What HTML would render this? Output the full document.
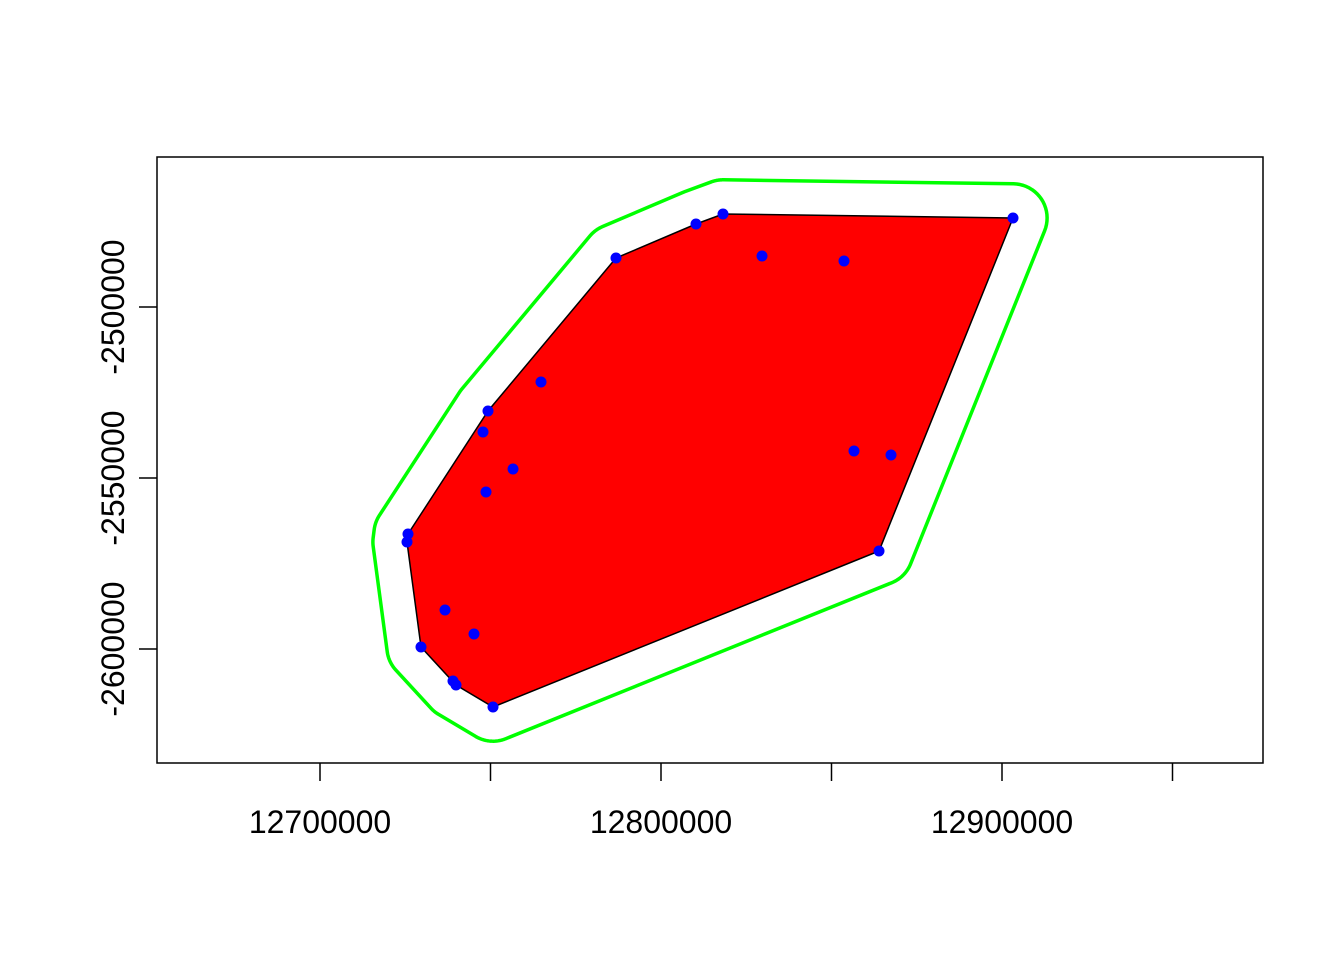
<!DOCTYPE html>
<html><head><meta charset="utf-8"><style>
html,body{margin:0;padding:0;background:#fff;}
svg text{font-family:"Liberation Sans",sans-serif;font-size:32px;fill:#000;}
</style></head><body>
<svg id="chart" width="1344" height="960" xmlns="http://www.w3.org/2000/svg">
<rect x="0" y="0" width="1344" height="960" fill="#fff"/>
<g id="plot"></g>
<rect x="157" y="157" width="1106" height="606" fill="none" stroke="#000" stroke-width="1.5"/>
<g id="axes"></g>
</svg>
<script>
const xs = [12818184,12810266,12786804,12829621,12853666,12903229,12764810,12749267,12747801,12756599,12748681,12856598,12867452,12725807,12725514,12863932,12736657,12745162,12729619,12739004,12739883,12750734];
const ys = [-2472807,-2475731,-2485673,-2485088,-2486550,-2473977,-2521930,-2530409,-2536550,-2547368,-2554094,-2542105,-2543275,-2566374,-2568714,-2571345,-2588597,-2595614,-2599416,-2609357,-2610527,-2616959];
const xTicks = [12700000,12750000,12800000,12850000,12900000,12950000];
const xLabels = ["12700000","","12800000","","12900000",""];
const yTicks = [-2500000,-2550000,-2600000];
const yLabels = ["-2500000","-2550000","-2600000"];
const bufferDist = 10000;

const X = v => 320 + (v - 12700000) * 341 / 100000;
const Y = v => 307 - (v + 2500000) * 342 / 100000;
const NS = "http://www.w3.org/2000/svg";
const plot = document.getElementById('plot'), axes = document.getElementById('axes');
function mk(tag, attrs, parent){const e=document.createElementNS(NS,tag);for(const k in attrs)e.setAttribute(k,attrs[k]);parent.appendChild(e);return e;}

const pts = xs.map((x,i)=>[x,ys[i]]).sort((a,b)=>a[0]-b[0]||a[1]-b[1]);
const cross=(o,a,b)=>(a[0]-o[0])*(b[1]-o[1])-(a[1]-o[1])*(b[0]-o[0]);
const lower=[],upper=[];
for(const p of pts){while(lower.length>=2&&cross(lower[lower.length-2],lower[lower.length-1],p)<=0)lower.pop();lower.push(p);}
for(let i=pts.length-1;i>=0;i--){const p=pts[i];while(upper.length>=2&&cross(upper[upper.length-2],upper[upper.length-1],p)<=0)upper.pop();upper.push(p);}
const hull=lower.slice(0,-1).concat(upper.slice(0,-1));

const buf=[];
const n=hull.length;
for(let i=0;i<n;i++){
  const p=hull[i],prev=hull[(i-1+n)%n],next=hull[(i+1)%n];
  const a1=Math.atan2(p[1]-prev[1],p[0]-prev[0])-Math.PI/2;
  let a2=Math.atan2(next[1]-p[1],next[0]-p[0])-Math.PI/2;
  while(a2<a1)a2+=2*Math.PI;
  const steps=20;
  for(let s=0;s<=steps;s++){const a=a1+(a2-a1)*s/steps;buf.push([p[0]+bufferDist*Math.cos(a),p[1]+bufferDist*Math.sin(a)]);}
}
const hullEl=mk('polygon',{points:hull.map(p=>X(p[0])+','+Y(p[1])).join(' '),fill:'#ff0000',stroke:'#000','stroke-width':1.5},plot);


const bufEl=mk('polygon',{points:buf.map(p=>X(p[0])+','+Y(p[1])).join(' '),fill:'none',stroke:'#00ff00','stroke-width':3.5,'stroke-linejoin':'round'},plot);


xs.forEach((x,i)=>{
  const c=mk('circle',{cx:X(x),cy:Y(ys[i]),r:5.5,fill:'#0000ff'},plot);
  
  
});
xTicks.forEach((t,i)=>{
  const l=mk('line',{x1:X(t),x2:X(t),y1:763,y2:781,stroke:'#000','stroke-width':1.5},axes);
  
  
  if(xLabels[i]){const tx=mk('text',{x:X(t),y:833,'text-anchor':'middle'},axes);tx.textContent=xLabels[i];
    
    }
});
yTicks.forEach((t,i)=>{
  const l=mk('line',{x1:139,x2:157,y1:Y(t),y2:Y(t),stroke:'#000','stroke-width':1.5},axes);
  
  
  const tx=mk('text',{x:124,y:Y(t),'text-anchor':'middle',transform:`rotate(-90 124 ${Y(t)})`},axes);tx.textContent=yLabels[i];
  
  
});
</script>
</body></html>
